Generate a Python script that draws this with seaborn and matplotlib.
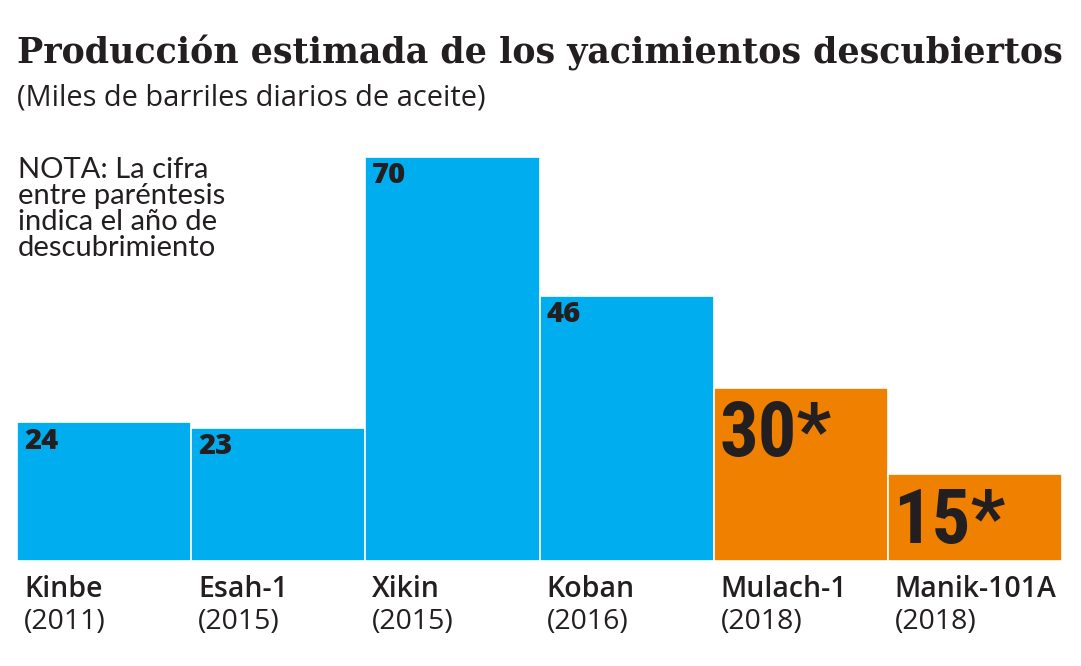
import seaborn as sns
import matplotlib.pyplot as plt
import pandas as pd

# datos de la grafica
campos = ["Kinbe", "Esah-1", "Xikin", "Koban", "Mulach-1", "Manik-101A"]
anios = ["2011", "2015", "2015", "2016", "2018", "2018"]
produccion = [24, 23, 70, 46, 30, 15]
estimado = [False, False, False, False, True, True]

AZUL = "#00aeef"
NARANJA = "#f08000"
TINTA = "#231f20"

df = pd.DataFrame({"campo": campos, "anio": anios, "prod": produccion,
                   "tipo": ["est" if e else "real" for e in estimado]})

sns.set_theme(style="white")
plt.rcParams["font.family"] = ["Open Sans", "DejaVu Sans"]

fig = plt.figure(figsize=(10.81, 6.66), dpi=100)
ax = fig.add_axes([17 / 1081, 105 / 666, 1045 / 1081, 404 / 666])

sns.barplot(data=df, x="campo", y="prod", hue="tipo",
            palette={"real": AZUL, "est": NARANJA}, dodge=False, width=1.0,
            saturation=1, edgecolor="white", linewidth=1.2, legend=False, ax=ax)

ax.set_xlim(-0.5, len(campos) - 0.5)
ax.set_ylim(0, 70)
ax.set_axis_off()

for i, (v, e) in enumerate(zip(produccion, estimado)):
    if e:
        # cifras estimadas: numero grande condensado con asterisco
        ax.annotate(f"{v}*", xy=(i - 0.5, v), xytext=(4, -8),
                    textcoords="offset points", va="top", ha="left",
                    fontsize=55, fontweight="bold", color=TINTA,
                    family=["Roboto Condensed", "DejaVu Sans"])
    else:
        ax.annotate(str(v), xy=(i - 0.5, v), xytext=(5, -3),
                    textcoords="offset points", va="top", ha="left",
                    fontsize=21, fontweight="heavy", color=TINTA)
    ax.annotate(campos[i], xy=(i - 0.5, 0), xytext=(5, -10),
                textcoords="offset points", va="top", ha="left",
                fontsize=20.5, fontweight="semibold", color=TINTA,
                annotation_clip=False)
    ax.annotate(f"({anios[i]})", xy=(i - 0.5, 0), xytext=(5, -34),
                textcoords="offset points", va="top", ha="left",
                fontsize=20.5, fontweight="medium", color=TINTA,
                annotation_clip=False)

fig.text(17 / 1081, 1 - 35 / 666, "Producción estimada de los yacimientos descubiertos",
         ha="left", va="top", fontsize=25.1, fontweight="bold",
         family=["DejaVu Serif"], color=TINTA)
fig.text(17 / 1081, 1 - 84 / 666, "(Miles de barriles diarios de aceite)",
         ha="left", va="top", fontsize=20.9, color=TINTA)
fig.text(18 / 1081, 1 - 157 / 666,
         "NOTA: La cifra\nentre paréntesis\nindica el año de\ndescubrimiento",
         ha="left", va="top", fontsize=21, color=TINTA, linespacing=1.0,
         family=["Lato", "DejaVu Sans"])

fig.savefig("out.png", dpi=100, facecolor="white")
